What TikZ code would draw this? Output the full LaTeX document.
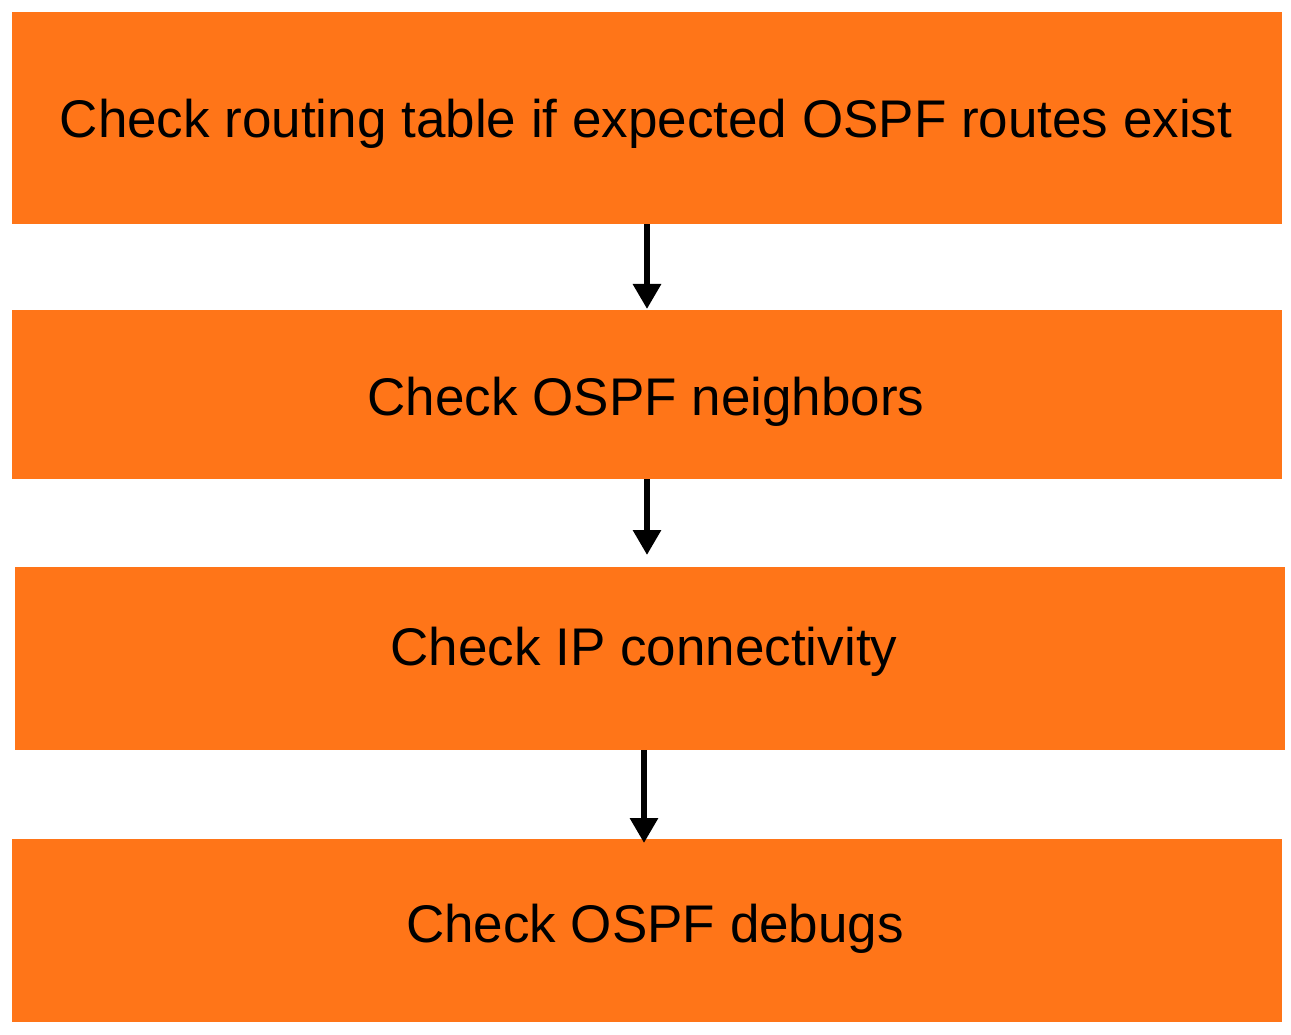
\documentclass[tikz,border=0pt]{standalone}
\usepackage{fontspec}
\setmainfont{Liberation Sans}
\usetikzlibrary{arrows.meta}
\definecolor{boxorange}{RGB}{255,117,24}
\begin{document}
\begin{tikzpicture}[x=1pt,y=-1pt,
  box/.style={rectangle, fill=boxorange, draw=none, inner sep=0pt},
  txt/.style={anchor=base, inner sep=0pt, font=\fontsize{53}{60}\selectfont, text=black},
  arr/.style={line width=6pt, draw=black, -{Triangle[width=27pt,length=25pt]}}]
\useasboundingbox (0,0) rectangle (1291,1035);
\node[box, minimum width=1270pt, minimum height=212pt] (b1) at (647,118) {};
\node[box, minimum width=1270pt, minimum height=169pt] (b2) at (647,394.5) {};
\node[box, minimum width=1270pt, minimum height=183pt] (b3) at (650,658.5) {};
\node[box, minimum width=1270pt, minimum height=183pt] (b4) at (647,930.5) {};
\node[txt] (t1) at (646,138) {Check routing table if expected OSPF routes exist};
\node[txt] (t2) at (646,415.5) {Check OSPF neighbors};
\node[txt] (t3) at (644,665) {Check IP connectivity};
\node[txt] (t4) at (655,942.5) {Check OSPF debugs};
\coordinate (e1) at (647,309);
\coordinate (e2) at (647,555);
\coordinate (s3) at (644,750);
\coordinate (e3) at (644,843);
\draw[arr] (b1.south) -- (e1);
\draw[arr] (b2.south) -- (e2);
\draw[arr] (s3) -- (e3);
\end{tikzpicture}
\end{document}
